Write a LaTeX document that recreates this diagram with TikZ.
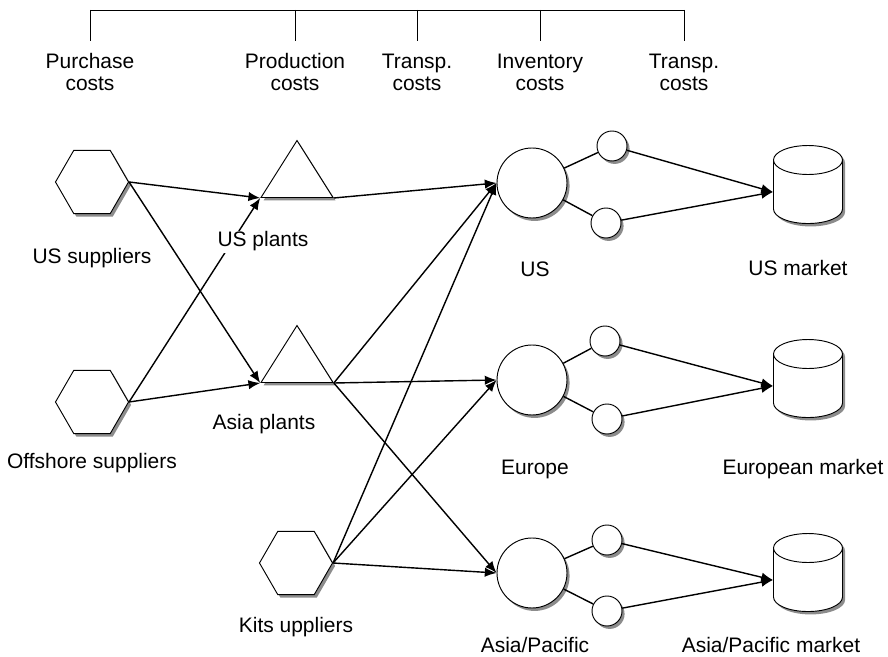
\documentclass[tikz,border=0pt]{standalone}
\usepackage{fontspec}
\setmainfont{Liberation Sans}
\usetikzlibrary{shapes.geometric, arrows.meta, shadows}

\begin{document}
\begin{tikzpicture}[
    x=0.03cm, y=-0.03cm,
    font=\fontsize{17.9pt}{19.6pt}\selectfont,
    boxshadow/.style={fill=white, drop shadow={shadow xshift=2.2pt, shadow yshift=-2.5pt, fill=black!45, opacity=1}},
    supplier/.style={draw, regular polygon, regular polygon sides=6, minimum size=2.19cm, inner sep=0pt, line width=0.8pt, boxshadow},
    plant/.style={draw, isosceles triangle, isosceles triangle stretches, shape border rotate=90, minimum width=2.16cm, minimum height=1.71cm, inner sep=0pt, anchor=lower side, line width=0.8pt, boxshadow},
    dc/.style={draw, circle, minimum size=2.1cm, inner sep=0pt, line width=0.8pt, boxshadow},
    depot/.style={draw, circle, minimum size=0.9cm, inner sep=0pt, line width=0.8pt, boxshadow},
    market/.style={draw, cylinder, shape border rotate=90, aspect=0.42, minimum width=2.07cm, minimum height=2.34cm, inner sep=0pt, line width=0.8pt, boxshadow},
    lbl/.style={align=center, inner sep=1pt, anchor=base},
    flow/.style={-{Latex[length=10pt,width=8pt]}, line width=1.2pt},
    link/.style={line width=1.2pt}
]
\useasboundingbox (0,0) rectangle (888,657);

% cost headings
\node[lbl] (purch) at (90,91) {Purchase\\costs};
\node[lbl] (prod) at (295,91) {Production\\costs};
\node[lbl] (transA) at (417,91) {Transp.\\costs};
\node[lbl] (inv) at (540,91) {Inventory\\costs};
\node[lbl] (transB) at (684,91) {Transp.\\costs};
\coordinate (bar) at (0,10);
\coordinate (tick) at (0,41);
\draw[line width=0.8pt] (purch |- bar) -- (transB |- bar);
\foreach \c in {purch,prod,transA,inv,transB}
    \draw[line width=0.8pt] (\c |- bar) -- (\c |- tick);

% suppliers and plants
\node[supplier] (ussup) at (92,182) {};
\node[supplier] (offsup) at (92,402) {};
\node[supplier] (kitsup) at (296,563) {};
\node[plant] (usplant) at (297,198) {};
\node[plant] (asplant) at (297,383) {};

% distribution centres
\node[dc] (usdc) at (532,183) {};
\node[dc] (eudc) at (532,380) {};
\node[dc] (apdc) at (532,573) {};
\node[depot] (usup) at (612,146) {};
\node[depot] (usdown) at (606,223) {};
\node[depot] (euup) at (605,341) {};
\node[depot] (eudown) at (607,419) {};
\node[depot] (apup) at (607,540) {};
\node[depot] (apdown) at (607,611) {};

% markets
\node[market] (usmkt) at (808,192) {\rule{2.07cm}{0pt}};
\node[market] (eumkt) at (808,386) {\rule{2.07cm}{0pt}};
\node[market] (apmkt) at (808,580) {\rule{2.07cm}{0pt}};

% flows
\draw[flow] (ussup.east) -- (usplant.left corner);
\draw[flow] (ussup.east) -- (asplant.left corner);
\draw[flow] (offsup.east) -- (usplant.left corner);
\draw[flow] (offsup.east) -- (asplant.left corner);
\draw[flow] (usplant.right corner) -- (usdc.west);
\foreach \d in {usdc,eudc,apdc} {
    \draw[flow] (asplant.right corner) -- (\d.west);
    \draw[flow] (kitsup.east) -- (\d.west);
}
\foreach \d/\a/\b in {usdc/usup/usdown, eudc/euup/eudown, apdc/apup/apdown} {
    \draw[link] (\d) -- (\a);
    \draw[link] (\d) -- (\b);
}
\foreach \a/\b/\m in {usup/usdown/usmkt, euup/eudown/eumkt, apup/apdown/apmkt} {
    \draw[flow] (\a) -- (\m.west);
    \draw[flow] (\b) -- (\m.west);
}

% labels
\node[lbl] (ussuptxt) at (92,264) {US suppliers};
\node[lbl] (offsuptxt) at (92,469) {Offshore suppliers};
\node[lbl] (kitsuptxt) at (296,632) {Kits uppliers};
\node[lbl, fill=white] (usplanttxt) at (263,247) {US plants};
\node[lbl] (asplanttxt) at (264,430) {Asia plants};
\node[lbl] (usdctxt) at (535,277) {US};
\node[lbl] (eudctxt) at (535,475) {Europe};
\node[lbl] (apdctxt) at (535,653) {Asia/Pacific};
\node[lbl] (usmkttxt) at (798,276) {US market};
\node[lbl] (eumkttxt) at (803,475) {European market};
\node[lbl] (apmkttxt) at (771,653) {Asia/Pacific market};
\end{tikzpicture}
\end{document}
